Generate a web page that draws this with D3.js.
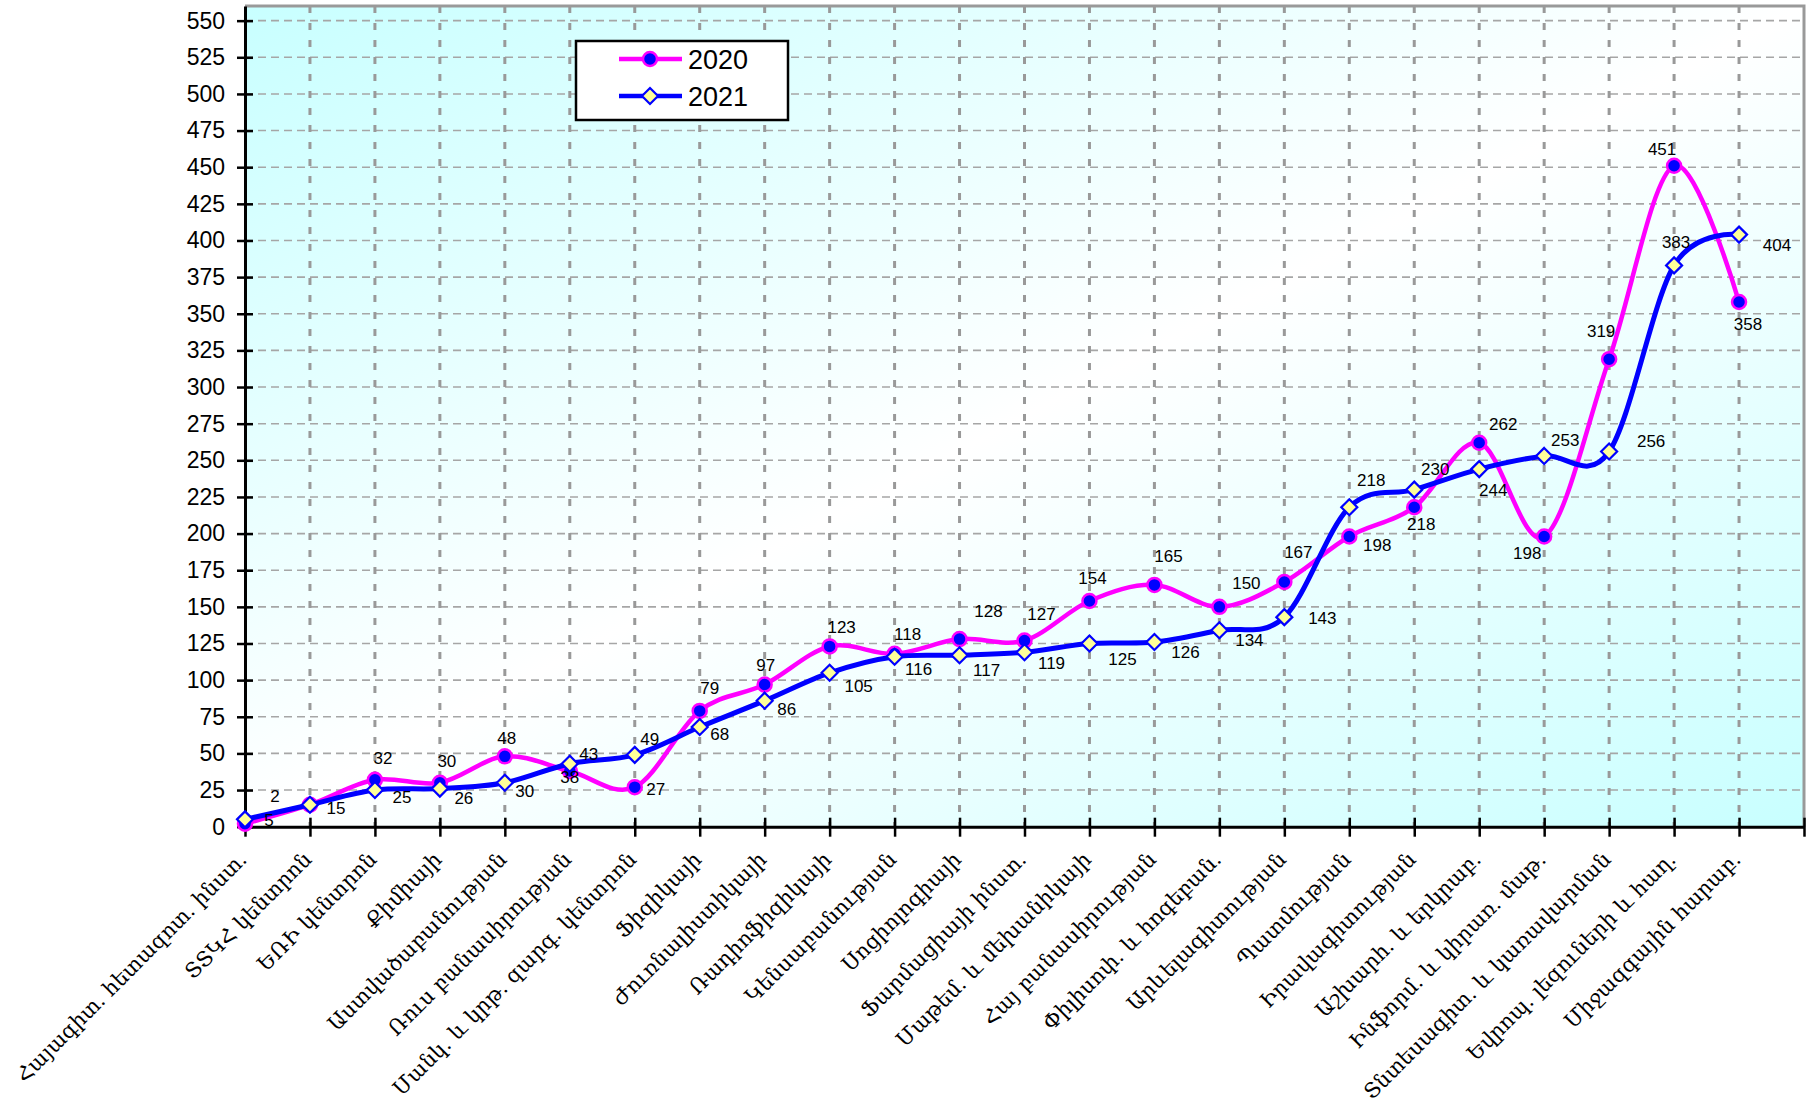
<!DOCTYPE html>
<html>
<head>
<meta charset="utf-8">
<script src="https://cdn.jsdelivr.net/npm/d3@7"></script>
<style>
  body { margin: 0; background: #fff; }
  svg { display: block; }
</style>
</head>
<body>
<svg></svg>
<script>
const width = 1817;
const height = 1120;

// categories (faculties / centres)
const categories = [
  "Հայագիտ. հետազոտ. ինստ.",
  "ՏՏԿՀ կենտրոն",
  "ԵՌԻ կենտրոն",
  "Քիմիայի",
  "Աստվածաբանության",
  "Ռուս բանասիրության",
  "Մանկ. և կրթ. զարգ. կենտրոն",
  "Ֆիզիկայի",
  "Ժուռնալիստիկայի",
  "Ռադիոֆիզիկայի",
  "Կենսաբանության",
  "Սոցիոլոգիայի",
  "Ֆարմացիայի ինստ.",
  "Մաթեմ. և մեխանիկայի",
  "Հայ բանասիրության",
  "Փիլիսոփ. և հոգեբան.",
  "Արևելագիտության",
  "Պատմության",
  "Իրավագիտության",
  "Աշխարհ. և երկրաբ.",
  "Ինֆորմ. և կիրառ. մաթ.",
  "Տնտեսագիտ. և կառավարման",
  "Եվրոպ. լեզուների և հաղ.",
  "Միջազգային հարաբ."
];

const values2020 = [2, 15, 32, 30, 48, 38, 27, 79, 97, 123, 118, 128, 127, 154, 165, 150, 167, 198, 218, 262, 198, 319, 451, 358];
const values2021 = [5, 15, 25, 26, 30, 43, 49, 68, 86, 105, 116, 117, 119, 125, 126, 134, 143, 218, 230, 244, 253, 256, 383, 404];

const seriesNames = ["2020", "2021"];
const yTicks = d3.range(0, 551, 25);

// label nudges (text centre relative to the marker), as placed in the original
const labelShift2020 = [
  [30, -28], null, [8, -22], [7, -22], [2, -18], [0, 6], [21, 2], [10, -23],
  [1, -19], [12, -19], [13, -20], [29, -28], [17, -27], [3, -23], [14, -29], [27, -24],
  [14, -30], [28, 9], [7, 17], [24, -19], [-17, 17], [-8, -28], [-12, -17], [9, 22]
];
const labelShift2021 = [
  [24, 1], [26, 3], [27, 7], [24, 9], [20, 8], [19, -10], [15, -16], [20, 7],
  [22, 8], [29, 13], [24, 12], [27, 15], [27, 11], [33, 16], [31, 10], [30, 10],
  [38, 1], [22, -27], [21, -21], [14, 21], [21, -16], [42, -10], [2, -23], [38, 10]
];

//plot area
const plotLeft = 245;
const plotRight = 1804;
const plotTop = 6;
const plotBottom = 826.7;

const svg = d3.select("svg").attr("width", width).attr("height", height);

const x = d3.scaleLinear().domain([0, categories.length]).range([plotLeft, plotRight]);
const y = d3.scaleLinear().domain([0, 560]).range([plotBottom, plotTop]);

//background gradient
const defs = svg.append("defs");
const grad = defs
  .append("linearGradient")
  .attr("id", "bg")
  .attr("x1", 0)
  .attr("y1", 0)
  .attr("x2", 1)
  .attr("y2", 1);
grad.append("stop").attr("offset", "0%").attr("stop-color", "#c8ffff");
grad.append("stop").attr("offset", "50%").attr("stop-color", "#ffffff");
grad.append("stop").attr("offset", "100%").attr("stop-color", "#c8ffff");

svg
  .append("rect")
  .attr("x", plotLeft)
  .attr("y", plotTop)
  .attr("width", plotRight - plotLeft)
  .attr("height", plotBottom - plotTop)
  .attr("fill", "url(#bg)");

//grid
svg
  .append("g")
  .selectAll("line")
  .data(yTicks.slice(1))
  .enter()
  .append("line")
  .attr("x1", plotLeft)
  .attr("x2", plotRight)
  .attr("y1", (d) => y(d))
  .attr("y2", (d) => y(d))
  .attr("stroke", "#a6a6a6")
  .attr("stroke-width", 1.6)
  .attr("stroke-dasharray", "8,5");

svg
  .append("g")
  .selectAll("line")
  .data(d3.range(1, categories.length))
  .enter()
  .append("line")
  .attr("x1", (d) => x(d))
  .attr("x2", (d) => x(d))
  .attr("y1", plotTop)
  .attr("y2", plotBottom)
  .attr("stroke", "#999")
  .attr("stroke-width", 3)
  .attr("stroke-dasharray", "7,10");

// top / right border
svg
  .append("path")
  .attr("d", `M${plotLeft},${plotTop}H${plotRight}V${plotBottom}`)
  .attr("fill", "none")
  .attr("stroke", "#999")
  .attr("stroke-width", 3);

//axes
const yAxis = d3
  .axisLeft(y)
  .tickValues(yTicks)
  .tickSizeInner(8)
  .tickSizeOuter(0)
  .tickPadding(12);

const yG = svg.append("g").attr("transform", `translate(${plotLeft},0)`).call(yAxis);
yG.select(".domain").attr("stroke", "#000").attr("stroke-width", 3);
yG.selectAll(".tick line")
  .attr("x2", 8)
  .attr("x1", -8)
  .attr("stroke", "#000")
  .attr("stroke-width", 2.5);
yG.selectAll(".tick text")
  .attr("x", -20)
  .attr("font-family", "Arial, 'Liberation Sans', sans-serif")
  .attr("font-size", 23)
  .attr("fill", "#000");

const xAxis = d3
  .axisBottom(x)
  .tickValues(d3.range(0, categories.length + 1))
  .tickSizeOuter(0)
  .tickFormat("");

const xG = svg.append("g").attr("transform", `translate(0,${plotBottom})`).call(xAxis);
xG.select(".domain").attr("stroke", "#000").attr("stroke-width", 3);
xG.selectAll(".tick line")
  .attr("y1", -9)
  .attr("y2", 10)
  .attr("stroke", "#000")
  .attr("stroke-width", 2.5);

// category labels, rotated
svg
  .append("g")
  .selectAll("text")
  .data(categories)
  .enter()
  .append("text")
  .attr("transform", (d, i) => `translate(${x(i) + 3},${plotBottom + 34}) rotate(-45)`)
  .attr("text-anchor", "end")
  .attr("font-family", "'DejaVu Serif', serif")
  .attr("font-size", 21)
  .attr("fill", "#000")
  .text((d) => d);

//lines
const line = d3
  .line()
  .x((d, i) => x(i))
  .y((d) => y(d))
  .curve(d3.curveCardinal.tension(0));

const diamond = (s) => `M0,${-s}L${s},0L0,${s}L${-s},0Z`;

// 2020
svg
  .append("path")
  .datum(values2020)
  .attr("d", line)
  .attr("fill", "none")
  .attr("stroke", "#ff00ff")
  .attr("stroke-width", 4.5);

svg
  .append("g")
  .selectAll("circle")
  .data(values2020)
  .enter()
  .append("circle")
  .attr("cx", (d, i) => x(i))
  .attr("cy", (d) => y(d))
  .attr("r", 7)
  .attr("fill", "#0000ff")
  .attr("stroke", "#ff00ff")
  .attr("stroke-width", 2.5);

// 2021
svg
  .append("path")
  .datum(values2021)
  .attr("d", line)
  .attr("fill", "none")
  .attr("stroke", "#0000ff")
  .attr("stroke-width", 5);

svg
  .append("g")
  .selectAll("path")
  .data(values2021)
  .enter()
  .append("path")
  .attr("transform", (d, i) => `translate(${x(i)},${y(d)})`)
  .attr("d", diamond(8))
  .attr("fill", "#ffff99")
  .attr("stroke", "#0000ff")
  .attr("stroke-width", 2.2);

//data labels
function addLabels(values, shifts) {
  svg
    .append("g")
    .selectAll("text")
    .data(values.map((v, i) => ({ v, i, s: shifts[i] })).filter((d) => d.s))
    .enter()
    .append("text")
    .attr("x", (d) => x(d.i) + d.s[0])
    .attr("y", (d) => y(d.v) + d.s[1])
    .attr("dy", "0.35em")
    .attr("text-anchor", "middle")
    .attr("font-family", "Arial, 'Liberation Sans', sans-serif")
    .attr("font-size", 17)
    .attr("fill", "#000")
    .text((d) => d.v);
}
addLabels(values2020, labelShift2020);
addLabels(values2021, labelShift2021);

//legend
const legend = svg.append("g").attr("transform", "translate(576,41)");
legend
  .append("rect")
  .attr("width", 212)
  .attr("height", 79)
  .attr("fill", "#fff")
  .attr("stroke", "#000")
  .attr("stroke-width", 2.5);

seriesNames.forEach((name, k) => {
  const row = legend.append("g").attr("transform", `translate(0,${18 + k * 37})`);
  row
    .append("line")
    .attr("x1", 43)
    .attr("x2", 106)
    .attr("stroke", k === 0 ? "#ff00ff" : "#0000ff")
    .attr("stroke-width", 4.5);
  if (k === 0) {
    row
      .append("circle")
      .attr("cx", 74)
      .attr("r", 7)
      .attr("fill", "#0000ff")
      .attr("stroke", "#ff00ff")
      .attr("stroke-width", 2.5);
  } else {
    row
      .append("path")
      .attr("transform", "translate(74,0)")
      .attr("d", diamond(8))
      .attr("fill", "#ffff99")
      .attr("stroke", "#0000ff")
      .attr("stroke-width", 2.2);
  }
  row
    .append("text")
    .attr("x", 112)
    .attr("dy", "0.36em")
    .attr("font-family", "Arial, 'Liberation Sans', sans-serif")
    .attr("font-size", 27)
    .attr("fill", "#000")
    .text(name);
});
</script>
</body>
</html>
